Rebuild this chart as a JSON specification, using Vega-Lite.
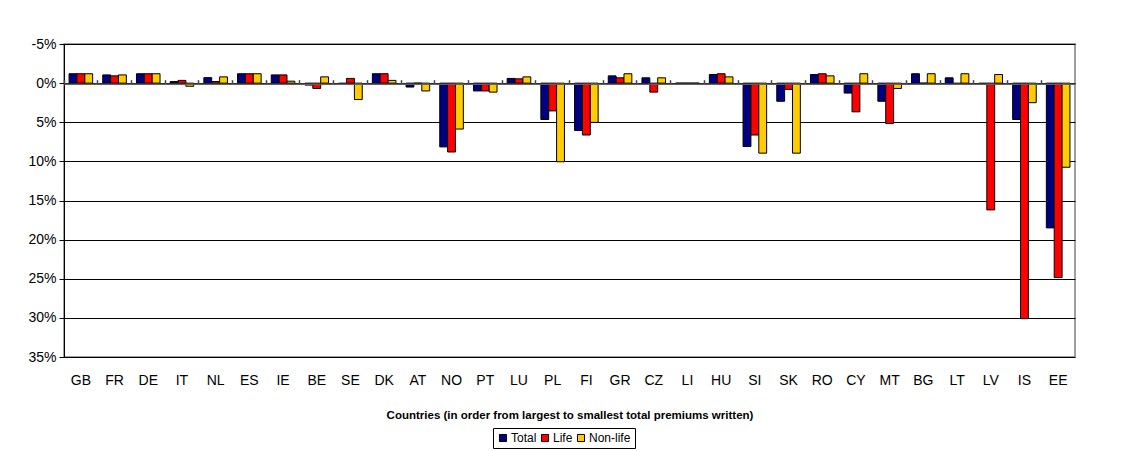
{
  "$schema": "https://vega.github.io/schema/vega-lite/v6.json",
  "width": 1011,
  "height": 313,
  "autosize": {"type": "none"},
  "padding": {"left": 64, "top": 44, "right": 66, "bottom": 94},
  "background": "white",
  "config": {
    "font": "Liberation Sans",
    "view": {"stroke": "#808080", "strokeWidth": 1.5},
    "axisY": {
      "title": null, "labelFontSize": 14, "labelColor": "black",
      "labelOverlap": false, "labelBound": false,
      "tickSize": 5, "tickColor": "black", "domainColor": "black", "labelPadding": 3,
      "grid": true, "gridColor": "black", "gridWidth": 1
    }
  },
  "data": {
    "values": [
      {"country":"GB","series":"Total","value":-1.2},{"country":"GB","series":"Life","value":-1.2},{"country":"GB","series":"Non-life","value":-1.2},
      {"country":"FR","series":"Total","value":-1.05},{"country":"FR","series":"Life","value":-0.93},{"country":"FR","series":"Non-life","value":-1.05},
      {"country":"DE","series":"Total","value":-1.2},{"country":"DE","series":"Life","value":-1.2},{"country":"DE","series":"Non-life","value":-1.2},
      {"country":"IT","series":"Total","value":-0.2},{"country":"IT","series":"Life","value":-0.35},{"country":"IT","series":"Non-life","value":0.4},
      {"country":"NL","series":"Total","value":-0.7},{"country":"NL","series":"Life","value":-0.2},{"country":"NL","series":"Non-life","value":-0.8},
      {"country":"ES","series":"Total","value":-1.2},{"country":"ES","series":"Life","value":-1.2},{"country":"ES","series":"Non-life","value":-1.2},
      {"country":"IE","series":"Total","value":-1.05},{"country":"IE","series":"Life","value":-1.05},{"country":"IE","series":"Non-life","value":-0.25},
      {"country":"BE","series":"Total","value":0.25},{"country":"BE","series":"Life","value":0.68},{"country":"BE","series":"Non-life","value":-0.8},
      {"country":"SE","series":"Total","value":0.15},{"country":"SE","series":"Life","value":-0.6},{"country":"SE","series":"Non-life","value":2.1},
      {"country":"DK","series":"Total","value":-1.2},{"country":"DK","series":"Life","value":-1.2},{"country":"DK","series":"Non-life","value":-0.35},
      {"country":"AT","series":"Total","value":0.5},{"country":"AT","series":"Life","value":0},{"country":"AT","series":"Non-life","value":1.0},
      {"country":"NO","series":"Total","value":8.15},{"country":"NO","series":"Life","value":8.8},{"country":"NO","series":"Non-life","value":5.87},
      {"country":"PT","series":"Total","value":1.0},{"country":"PT","series":"Life","value":1.0},{"country":"PT","series":"Non-life","value":1.15},
      {"country":"LU","series":"Total","value":-0.6},{"country":"LU","series":"Life","value":-0.55},{"country":"LU","series":"Non-life","value":-0.8},
      {"country":"PL","series":"Total","value":4.65},{"country":"PL","series":"Life","value":3.55},{"country":"PL","series":"Non-life","value":10.05},
      {"country":"FI","series":"Total","value":6.05},{"country":"FI","series":"Life","value":6.63},{"country":"FI","series":"Non-life","value":5.02},
      {"country":"GR","series":"Total","value":-0.93},{"country":"GR","series":"Life","value":-0.68},{"country":"GR","series":"Non-life","value":-1.2},
      {"country":"CZ","series":"Total","value":-0.68},{"country":"CZ","series":"Life","value":1.15},{"country":"CZ","series":"Non-life","value":-0.68},
      {"country":"LI","series":"Total","value":0},{"country":"LI","series":"Life","value":0},{"country":"LI","series":"Non-life","value":0},
      {"country":"HU","series":"Total","value":-1.1},{"country":"HU","series":"Life","value":-1.2},{"country":"HU","series":"Non-life","value":-0.8},
      {"country":"SI","series":"Total","value":8.1},{"country":"SI","series":"Life","value":6.63},{"country":"SI","series":"Non-life","value":8.95},
      {"country":"SK","series":"Total","value":2.32},{"country":"SK","series":"Life","value":0.8},{"country":"SK","series":"Non-life","value":8.95},
      {"country":"RO","series":"Total","value":-1.1},{"country":"RO","series":"Life","value":-1.2},{"country":"RO","series":"Non-life","value":-0.93},
      {"country":"CY","series":"Total","value":1.27},{"country":"CY","series":"Life","value":3.67},{"country":"CY","series":"Non-life","value":-1.2},
      {"country":"MT","series":"Total","value":2.32},{"country":"MT","series":"Life","value":5.15},{"country":"MT","series":"Non-life","value":0.68},
      {"country":"BG","series":"Total","value":-1.2},{"country":"BG","series":"Life","value":0},{"country":"BG","series":"Non-life","value":-1.2},
      {"country":"LT","series":"Total","value":-0.68},{"country":"LT","series":"Life","value":0.15},{"country":"LT","series":"Non-life","value":-1.2},
      {"country":"LV","series":"Total","value":0.05},{"country":"LV","series":"Life","value":16.2},{"country":"LV","series":"Non-life","value":-1.1},
      {"country":"IS","series":"Total","value":4.65},{"country":"IS","series":"Life","value":30.1},{"country":"IS","series":"Non-life","value":2.5},
      {"country":"EE","series":"Total","value":18.5},{"country":"EE","series":"Life","value":24.85},{"country":"EE","series":"Non-life","value":10.75}
    ]
  },
  "resolve": {"axis": {"x": "independent"}},
  "layer": [
    {
      "mark": {"type": "bar", "stroke": "black", "strokeWidth": 1},
      "encoding": {
        "x": {
          "field": "country", "type": "nominal", "sort": null,
          "scale": {"paddingInner": 0.3, "paddingOuter": 0.15},
          "axis": {
            "orient": "bottom", "title": "Countries (in order from largest to smallest total premiums written)",
            "titleFontSize": 11.5, "titleFontWeight": "bold", "titleColor": "black", "titlePadding": 22,
            "labelAngle": 0, "labelFontSize": 14, "labelColor": "black", "labelPadding": 16,
            "ticks": false, "domain": false, "grid": false
          }
        },
        "xOffset": {"field": "series", "type": "nominal", "sort": ["Total", "Life", "Non-life"], "scale": {"paddingInner": 0, "paddingOuter": 0}},
        "y": {
          "field": "value", "type": "quantitative",
          "scale": {"domain": [-5, 35], "reverse": true, "nice": false, "zero": true},
          "axis": {"values": [-5, 0, 5, 10, 15, 20, 25, 30, 35], "labelExpr": "datum.value + '%'"}
        },
        "color": {
          "field": "series", "type": "nominal",
          "scale": {"domain": ["Total", "Life", "Non-life"], "range": ["#000080", "#FF0000", "#FFCC00"]},
          "legend": {
            "title": null, "orient": "none", "legendX": 429, "legendY": 384,
            "direction": "horizontal", "symbolType": "square", "symbolSize": 50,
            "symbolStrokeColor": "black", "symbolStrokeWidth": 1, "symbolOpacity": 1,
            "labelFontSize": 12, "labelColor": "black", "labelOffset": 2, "columnPadding": 2,
            "strokeColor": "black", "padding": 4, "fillColor": "white"
          }
        }
      }
    },
    {
      "mark": {"type": "bar", "opacity": 0},
      "encoding": {
        "x": {
          "field": "country", "type": "nominal", "sort": null,
          "scale": {"paddingInner": 0.3, "paddingOuter": 0.15},
          "axis": {
            "orient": "top", "offset": -39.7, "title": null, "labels": false,
            "ticks": true, "tickSize": 4, "tickColor": "#404040", "tickWidth": 1.5, "bandPosition": -0.214,
            "domain": true, "domainColor": "#606060", "domainWidth": 1.5, "grid": false, "zindex": 1
          }
        },
        "y": {
          "field": "value", "type": "quantitative",
          "scale": {"domain": [-5, 35], "reverse": true, "nice": false, "zero": true},
          "axis": {"values": [-5, 0, 5, 10, 15, 20, 25, 30, 35], "labelExpr": "datum.value + '%'"}
        }
      }
    }
  ]
}
